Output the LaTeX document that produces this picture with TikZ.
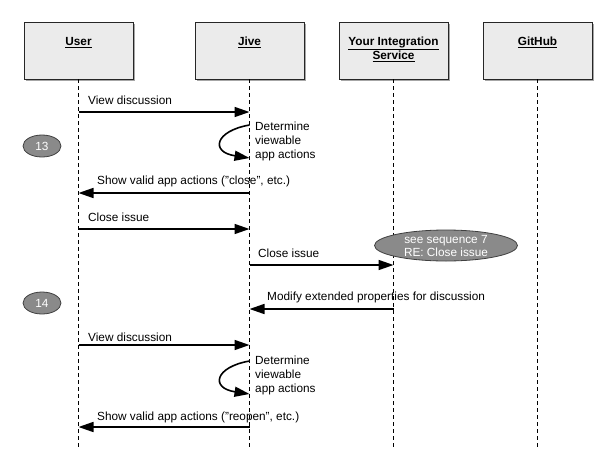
\documentclass[tikz,border=0pt]{standalone}
\usepackage{fontspec}
\setmainfont{Liberation Sans}
\usetikzlibrary{arrows.meta,shapes.geometric}
\definecolor{headgray}{HTML}{EBEBEB}
\definecolor{ovalgray}{HTML}{8A8A8A}
\definecolor{ovalline}{HTML}{404040}
\begin{document}
\begin{tikzpicture}[x=1pt,y=-1pt,
  font=\fontsize{11.8}{14}\selectfont,
  actorbox/.style={draw=black!85, fill=headgray, line width=0.8pt, minimum width=109pt, minimum height=57pt, inner sep=0pt},
  actorshadow/.style={fill=black!35, draw=none, minimum width=109pt, minimum height=57pt, inner sep=0pt},
  actortext/.style={font=\fontsize{11.8}{13.5}\selectfont\bfseries, align=center, anchor=north, inner sep=0pt},
  lifeline/.style={draw=black, line width=0.8pt, dash pattern=on 4pt off 3pt},
  msg/.style={draw=black, line width=1.6pt, -{Triangle[length=15pt,width=10pt]}, shorten >=0pt},
  msglabel/.style={anchor=west, inner sep=0pt},
  stepoval/.style={ellipse, draw=ovalline, fill=ovalgray, line width=0.8pt, text=white, inner sep=0pt},
]
\useasboundingbox (0,0) rectangle (615,474);
\fill[white] (0,0) rectangle (615,474);

% actor boxes
\foreach \nm/\xx in {user/78.5, jive/249.5, integ/393.5, gh/537.5}{
  \node[actorshadow] (\nm sh) at (\xx+2,52.5) {};
  \node[actorbox] (\nm) at (\xx,50.5) {};
}
\node[actortext] (userlbl) at (78.5,37) {\underline{User}};
\node[actortext] (jivelbl) at (249.5,37) {\underline{Jive}};
\node[actortext] (integlbl) at (393.5,37) {\underline{Your Integration}\\\underline{Service}};
\node[actortext] (ghlbl) at (537.5,37) {\underline{GitHub}};

% lifelines
\coordinate (userend) at (78.5,450);
\coordinate (jiveend) at (249.5,450);
\coordinate (integend) at (393.5,450);
\coordinate (ghend) at (537.5,450);
\draw[lifeline] (user.south) -- (userend);
\draw[lifeline] (jive.south) -- (jiveend);
\draw[lifeline] (integ.south) -- (integend);
\draw[lifeline] (gh.south) -- (ghend);

% step ovals
\node[stepoval, minimum width=38pt, minimum height=22pt] (s13) at (42,146) {13};
\node[stepoval, minimum width=38pt, minimum height=22pt] (s14) at (42,303) {14};
\node[stepoval, minimum width=143pt, minimum height=31pt, align=center, font=\fontsize{11.8}{13}\selectfont] (seq7) at (446,245.5) {see sequence 7\\RE: Close issue};

% message 1
\coordinate (u1) at (78.5,112); \coordinate (j1) at (249.5,112);
\draw[msg] (u1) -- (j1);
\node[msglabel] (l1) at (88,100) {View discussion};

% self loop 1
\coordinate (j2a) at (249.5,125); \coordinate (j2b) at (249.5,158);
\draw[msg] (j2a) .. controls (215,131) and (210,152) .. (j2b);
\node[anchor=north west, inner sep=0pt, align=left, font=\fontsize{11.8}{14}\selectfont] (l2) at (255,121.5) {Determine\\viewable\\app actions};

% message 3
\coordinate (j3) at (249.5,193); \coordinate (u3) at (78.5,193);
\draw[msg] (j3) -- (u3);
\node[msglabel] (l3) at (97,181) {Show valid app actions ("close", etc.)};

% message 4
\coordinate (u4) at (78.5,229); \coordinate (j4) at (249.5,229);
\draw[msg] (u4) -- (j4);
\node[msglabel] (l4) at (88,217) {Close issue};

% message 5
\coordinate (j5) at (249.5,265); \coordinate (i5) at (393.5,265);
\draw[msg] (j5) -- (i5);
\node[msglabel] (l5) at (258,253) {Close issue};

% message 6
\coordinate (i6) at (393.5,309); \coordinate (j6) at (249.5,309);
\draw[msg] (i6) -- (j6);
\node[msglabel] (l6) at (267,297) {Modify extended properties for discussion};

% message 7
\coordinate (u7) at (78.5,345); \coordinate (j7) at (249.5,345);
\draw[msg] (u7) -- (j7);
\node[msglabel] (l7) at (88,337) {View discussion};

% self loop 2
\coordinate (j8a) at (249.5,361); \coordinate (j8b) at (249.5,394);
\draw[msg] (j8a) .. controls (215,367) and (210,388) .. (j8b);
\node[anchor=north west, inner sep=0pt, align=left, font=\fontsize{11.8}{14}\selectfont] (l8) at (255,355.5) {Determine\\viewable\\app actions};

% message 9
\coordinate (j9) at (249.5,427); \coordinate (u9) at (78.5,427);
\draw[msg] (j9) -- (u9);
\node[msglabel] (l9) at (97,417) {Show valid app actions ("reopen", etc.)};
\end{tikzpicture}
\end{document}
